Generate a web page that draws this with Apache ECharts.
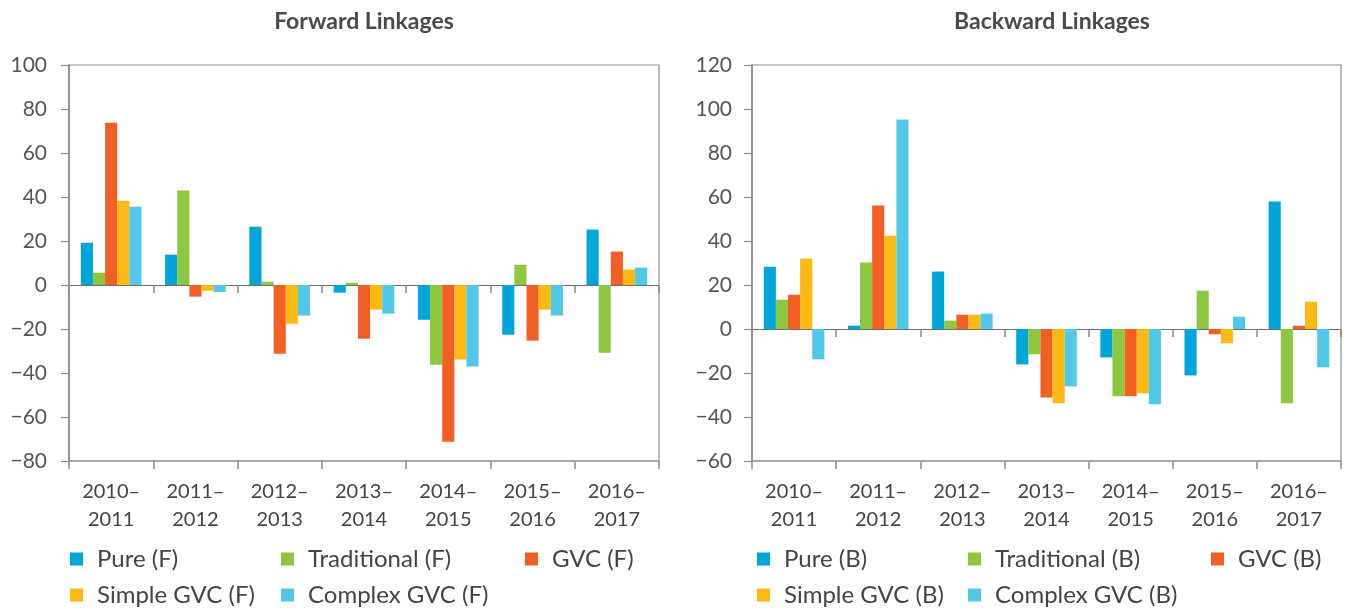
<!DOCTYPE html>
<html>
<head>
<meta charset="utf-8">
<script src="https://cdn.jsdelivr.net/npm/echarts@6/dist/echarts.min.js"></script>
<style>
  html, body { margin: 0; padding: 0; background: #fff; }
  #chart { width: 1348px; height: 611px; }
</style>
</head>
<body>
<div id="chart"></div>
<script>
// Period labels shared by both panels
const periods = ['2010–\n2011', '2011–\n2012', '2012–\n2013', '2013–\n2014', '2014–\n2015', '2015–\n2016', '2016–\n2017'];

// Forward linkages
const pureF        = [19.2, 13.8, 26.5, -3.5, -15.8, -22.6, 25.2];
const traditionalF = [5.6, 42.9, 1.5, 1.0, -36.2, 9.2, -30.8];
const gvcF         = [73.8, -5.3, -31.2, -24.4, -71.2, -25.3, 15.2];
const simpleGvcF   = [38.3, -2.6, -17.6, -11.2, -33.9, -11.2, 7.0];
const complexGvcF  = [35.6, -3.2, -13.9, -13.0, -37.1, -13.9, 7.9];

// Backward linkages
const pureB        = [28.3, 1.5, 26.1, -16.1, -12.9, -21.1, 57.9];
const traditionalB = [13.3, 30.2, 3.8, -11.5, -30.6, 17.4, -33.8];
const gvcB         = [15.6, 56.1, 6.5, -31.1, -30.6, -2.4, 1.5];
const simpleGvcB   = [32.0, 42.4, 6.5, -33.8, -29.2, -6.5, 12.4];
const complexGvcB  = [-13.8, 95.2, 7.0, -26.1, -34.2, 5.6, -17.4];

// Value axis ranges
const forwardAxis  = { min: -80, max: 100, interval: 20 };
const backwardAxis = { min: -60, max: 120, interval: 20 };

const colors = ['#00A6DA', '#8DC63F', '#F15F24', '#FDB913', '#52C8E9'];
const FONT = 'Lato, "Open Sans", sans-serif';

const forwardSeries = [
  ['Pure (F)', pureF], ['Traditional (F)', traditionalF], ['GVC (F)', gvcF],
  ['Simple GVC (F)', simpleGvcF], ['Complex GVC (F)', complexGvcF]
];
const backwardSeries = [
  ['Pure (B)', pureB], ['Traditional (B)', traditionalB], ['GVC (B)', gvcB],
  ['Simple GVC (B)', simpleGvcB], ['Complex GVC (B)', complexGvcB]
];

const grids = [
  { left: 69, top: 65, width: 590, height: 396 },
  { left: 752, top: 65, width: 589, height: 396 }
];
const yLabelMargins = [22, 20];

function xAxesFor(gridIndex) {
  return [
    // axis pinned to zero, ticks only
    {
      type: 'category', gridIndex, data: periods, position: 'bottom',
      axisLine: { onZero: true, lineStyle: { color: '#6e6e6e', width: 1.2 } },
      axisTick: { show: true, length: 8, lineStyle: { color: '#8a8a8a', width: 1.5 } },
      axisLabel: { show: false }
    },
    // frame bottom with period labels
    {
      type: 'category', gridIndex, data: periods, position: 'bottom',
      axisLine: { onZero: false, lineStyle: { color: '#a8a8a8', width: 2 } },
      axisTick: { show: true, length: 8, lineStyle: { color: '#8a8a8a', width: 1.5 } },
      axisLabel: {
        show: true, interval: 0, margin: 17, color: '#444', fontSize: 20,
        lineHeight: 28, fontFamily: FONT
      }
    }
  ];
}

function yAxisFor(gridIndex, range) {
  return {
    type: 'value', gridIndex, min: range.min, max: range.max, interval: range.interval,
    splitLine: { show: false },
    axisLine: { show: true, lineStyle: { color: '#8a8a8a', width: 1.5 } },
    axisTick: { show: true, length: 8, lineStyle: { color: '#8a8a8a', width: 1.2 } },
    axisLabel: {
      margin: yLabelMargins[gridIndex], color: '#555', fontSize: 21, fontFamily: FONT,
      formatter: v => String(v).replace('-', '−')
    }
  };
}

function barSeries(list, gridIndex) {
  return list.map(([name, values], i) => ({
    name, type: 'bar', data: values,
    xAxisIndex: gridIndex * 2, yAxisIndex: gridIndex,
    barGap: 0, barCategoryGap: '28%',
    itemStyle: { color: colors[i] }
  }));
}

// legend laid out in fixed columns, one component per entry
const legendCols = [[70, 281, 525], [757, 968, 1211]];
const legendRows = [546, 582];
function legendsFor(list, panel) {
  return list.map(([name], i) => ({
    data: [name],
    left: legendCols[panel][i % 3],
    top: legendRows[Math.floor(i / 3)],
    padding: 0,
    itemWidth: 13, itemHeight: 13, icon: 'rect',
    textStyle: { fontSize: 24, lineHeight: 26, color: '#444', fontFamily: FONT, padding: [0, 0, 0, 9] },
    selectedMode: false
  }));
}

const chart = echarts.init(document.getElementById('chart'));
chart.setOption({
  animation: false,
  backgroundColor: '#fff',
  title: [
    { text: 'Forward Linkages', left: 359, top: 5, textAlign: 'center',
      textStyle: { fontSize: 23, fontWeight: 'bold', color: '#4a4a4a', fontFamily: FONT } },
    { text: 'Backward Linkages', left: 1047, top: 5, textAlign: 'center',
      textStyle: { fontSize: 23, fontWeight: 'bold', color: '#4a4a4a', fontFamily: FONT } }
  ],
  grid: grids.map(g => Object.assign({ show: true, borderColor: '#8c8c8c', borderWidth: 1.2 }, g)),
  xAxis: [...xAxesFor(0), ...xAxesFor(1)],
  yAxis: [yAxisFor(0, forwardAxis), yAxisFor(1, backwardAxis)],
  legend: [...legendsFor(forwardSeries, 0), ...legendsFor(backwardSeries, 1)],
  series: [...barSeries(forwardSeries, 0), ...barSeries(backwardSeries, 1)]
});
</script>
</body>
</html>
